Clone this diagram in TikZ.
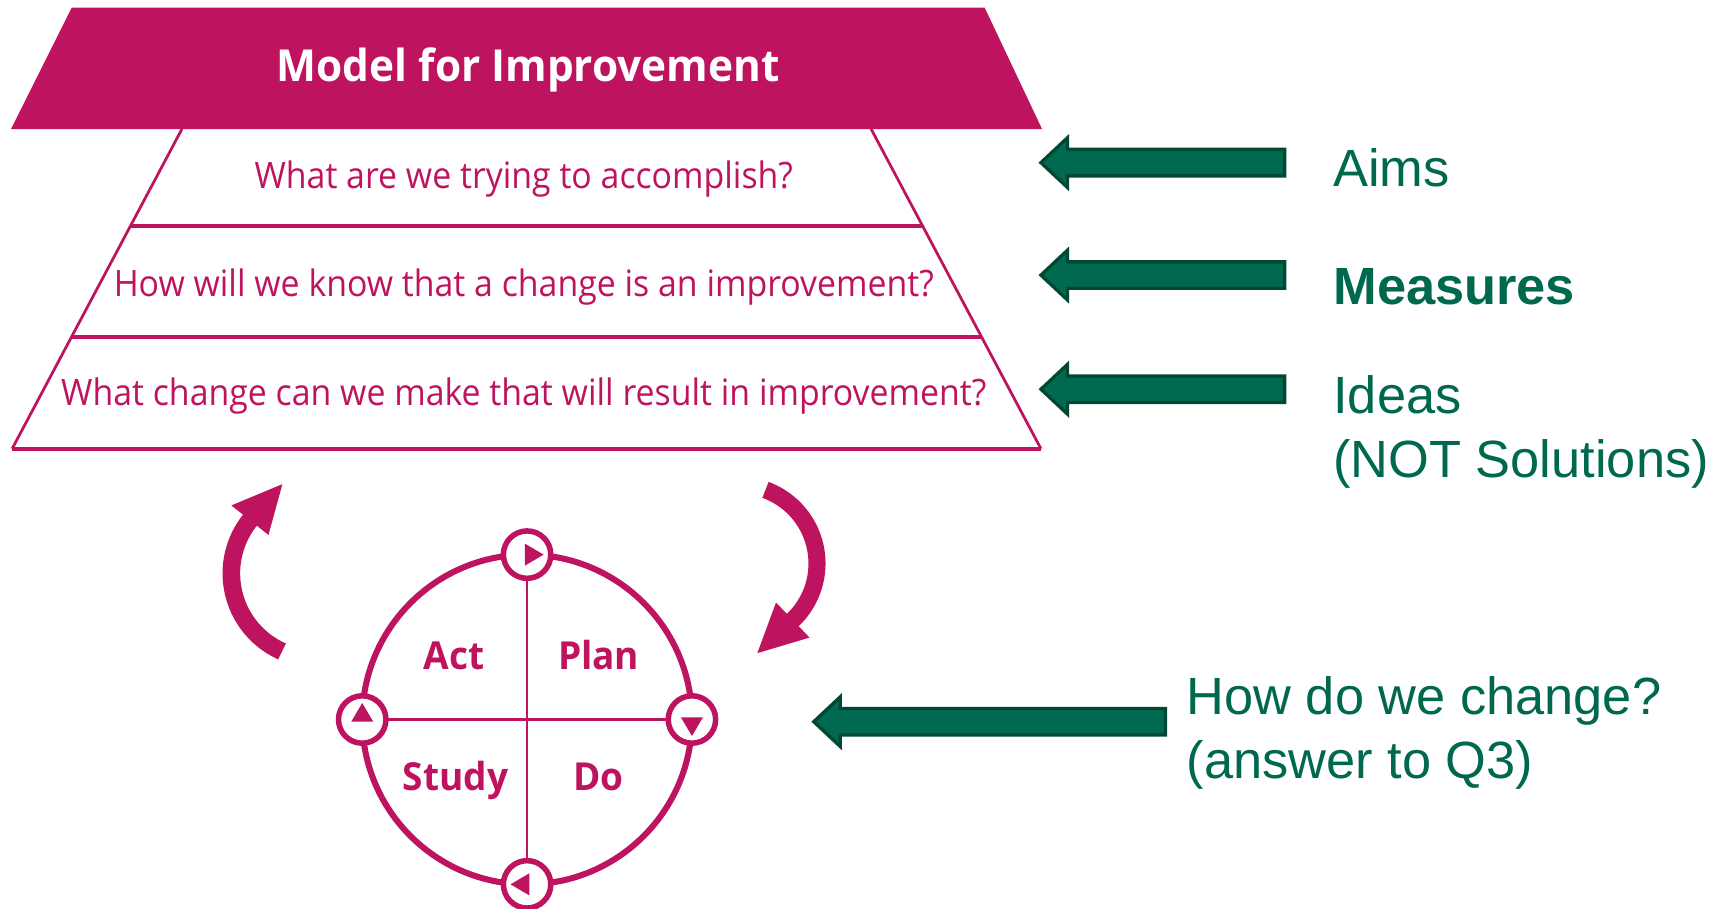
\documentclass[tikz,border=0pt]{standalone}
\usepackage{fontspec}
\usetikzlibrary{calc}
\newfontfamily\qfont[FakeStretch=0.93]{Open Sans}
\newfontfamily\tfont[FakeStretch=0.96]{Open Sans}
\newfontfamily\lfont{Liberation Sans}
\definecolor{mfi}{RGB}{190,20,95}
\definecolor{gtext}{RGB}{0,104,78}
\definecolor{gfill}{RGB}{0,106,80}
\definecolor{gedge}{RGB}{0,72,52}

% left-pointing block arrow: name, tip x, centre y, total length
\newcommand\garrow[4]{%
  \coordinate (#1) at (#2,#3);
  \filldraw[gfill, draw=gedge, line width=3, line join=miter]
    (#1) -- ++(24,22.5) -- ++(0,-10.5) -- ++(#4-24,0) -- ++(0,-24)
    -- ++(24-#4,0) -- ++(0,-10.5) -- cycle;
}

\begin{document}
\begin{tikzpicture}[x=1pt,y=1pt,
  qtext/.style={text=mfi, font=\qfont\fontsize{33}{38}\selectfont, inner sep=0, anchor=base},
  titletext/.style={text=white, font=\tfont\bfseries\fontsize{40}{46}\selectfont, inner sep=0, anchor=base},
  pdsa/.style={text=mfi, font=\tfont\bfseries\fontsize{35}{40}\selectfont, inner sep=0, anchor=base},
  gl/.style={text=gtext, font=\lfont\fontsize{47.5}{58}\selectfont, inner sep=0, anchor=base west},
  hub/.style={circle, draw=mfi, line width=5, fill=white, minimum size=43, inner sep=0},
  side/.style={mfi, line width=2.5},
  sep/.style={mfi, line width=3.6},
]
\useasboundingbox (0,0) rectangle (1568,824);

% heading band of the pyramid
\fill[mfi] (65,817) -- (893,817) -- (945,707) -- (10,707) -- cycle;
\node[titletext] (title) at (479,750.5) {Model for Improvement};

% the three question rows
\coordinate (l0) at (165,707); \coordinate (r0) at (790,707);
\coordinate (l3) at (11,417);  \coordinate (r3) at (944,417);
\draw[side] (l0) -- (l3);
\draw[side] (r0) -- (r3);
\draw[sep] ($(l0)!0.3034!(l3)$) -- ($(r0)!0.3034!(r3)$);
\draw[sep] ($(l0)!0.6517!(l3)$) -- ($(r0)!0.6517!(r3)$);
\draw[sep] (l3) -- (r3);

\node[qtext] (q1) at (475,653) {What are we trying to accomplish?};
\node[qtext] (q2) at (475,555) {How will we know that a change is an improvement?};
\node[qtext] (q3) at (475,456.7) {What change can we make that will result in improvement?};

% pointers and their labels
\garrow{a1}{944}{676.5}{221}
\garrow{a2}{944}{574.5}{221}
\garrow{a3}{944}{471}{221}
\garrow{a4}{738}{169.5}{319}

\node[gl] (aims) at (1209,655) {Aims};
\node[gl, font=\lfont\bfseries\fontsize{47.5}{58}\selectfont] (measures) at (1209,548) {Measures};
\node[gl] (ideas) at (1209,449.2) {Ideas};
\node[gl] (ideas2) at (1209,391.1) {(NOT Solutions)};
\node[gl] (change) at (1076,175.6) {How do we change?};
\node[gl] (change2) at (1076,118.2) {(answer to Q3)};

% PDSA cycle
\coordinate (pc) at (478,171.5);
\draw[mfi, line width=5.5] (pc) circle[radius=149.5];
\draw[mfi, line width=2.5] ($(pc)+(0,149.5)$) -- ($(pc)+(0,-149.5)$);
\draw[mfi, line width=2.5] ($(pc)+(-149.5,0)$) -- ($(pc)+(149.5,0)$);

\node[hub] (nN) at ($(pc)+(0,149.5)$) {};
\node[hub] (nE) at ($(pc)+(149.5,0)$) {};
\node[hub] (nS) at ($(pc)+(0,-149.5)$) {};
\node[hub] (nW) at ($(pc)+(-149.5,0)$) {};
\fill[mfi] ($(nN)+(-2,10)$) -- ($(nN)+(15,0)$) -- ($(nN)+(-2,-10)$) -- cycle;
\fill[mfi] ($(nE)+(-10,2)$) -- ($(nE)+(0,-15)$) -- ($(nE)+(10,2)$) -- cycle;
\fill[mfi] ($(nS)+(2,10)$) -- ($(nS)+(-15,0)$) -- ($(nS)+(2,-10)$) -- cycle;
\fill[mfi] ($(nW)+(-10,-2)$) -- ($(nW)+(0,15)$) -- ($(nW)+(10,-2)$) -- cycle;

\node[pdsa] (act) at (411.7,217) {Act};
\node[pdsa] (plan) at (542.9,217) {Plan};
\node[pdsa] (study) at (413.2,107.5) {Study};
\node[pdsa] (do) at (542.7,107.5) {Do};

% curved arrows around the cycle
\coordinate (la) at (287.3,304);
\draw[mfi, line width=16] ($(la)+(246:77.5)$) arc[start angle=246, end angle=140.5, radius=77.5];
\fill[mfi] ($(la)+(141.5:99)$) -- ($(la)+(141.5:77.5)+(48:44)$) -- ($(la)+(141.5:56)$) -- cycle;

\coordinate (ra) at (669.9,313);
\draw[mfi, line width=15.5] ($(ra)+(70:71)$) arc[start angle=70, end angle=-47.3, radius=71];
\fill[mfi] ($(ra)+(-46.3:93)$) -- ($(ra)+(-46.3:71)+(-137:44)$) -- ($(ra)+(-46.3:49)$) -- cycle;
\end{tikzpicture}
\end{document}
